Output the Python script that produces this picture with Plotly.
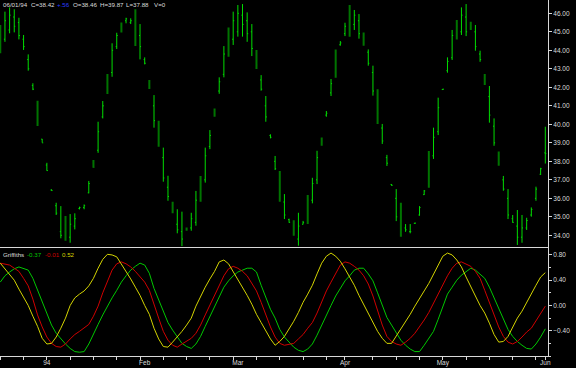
import plotly.graph_objects as go
import pandas as pd

# ---------------- data ----------------
dates = pd.bdate_range("1993-12-20", "1994-06-01")

high = [45.37, 46.09, 46.32, 46.22, 45.76, 44.83, 43.78, 42.22, 41.28, 39.21,
        37.92, 36.49, 35.76, 35.58, 35.04, 35.15, 35.19, 35.55, 35.67, 36.94,
        38.07, 40.14, 41.26, 42.72, 44.38, 44.95, 45.51, 45.76, 45.73, 46.22,
        45.42, 43.62, 42.39, 41.58, 40.19, 38.74, 37.22, 35.82, 35.41, 35.28,
        34.43, 35.22, 36.40, 37.21, 38.74, 39.69, 40.86, 42.54, 44.23, 45.24,
        46.09, 46.45, 46.50, 46.05, 45.42, 44.02, 42.66, 41.53, 39.46, 38.29,
        37.48, 36.23, 34.90, 34.82, 35.22, 34.78, 36.18, 37.11, 38.57, 39.29,
        40.72, 42.45, 44.05, 44.50, 45.49, 46.45, 46.18, 45.96, 44.97, 44.05,
        43.17, 41.89, 40.02, 38.35, 36.77, 36.50, 35.76, 34.61, 34.61, 34.68,
        35.58, 36.45, 38.56, 39.82, 41.44, 41.92, 43.62, 45.10, 45.64, 46.32,
        46.50, 45.55, 45.37, 43.98, 42.72, 42.07, 40.32, 38.53, 37.21, 36.50,
        35.10, 35.37, 35.10, 34.95, 35.51, 36.63, 37.65, 39.87]
low = [43.84, 44.46, 44.92, 44.97, 44.59, 44.02, 42.90, 41.85, 39.91, 39.01,
       37.49, 36.41, 35.10, 33.84, 33.71, 33.60, 34.32, 35.40, 35.41, 36.27,
       37.65, 38.46, 40.32, 41.64, 42.57, 44.07, 44.97, 45.46, 45.42, 44.23,
       43.51, 43.24, 41.91, 39.82, 38.79, 36.90, 35.87, 35.19, 34.11, 33.42,
       34.25, 34.25, 34.52, 35.82, 36.85, 38.66, 40.41, 41.65, 42.54, 43.65,
       44.29, 44.74, 44.74, 44.46, 43.69, 42.99, 41.82, 40.14, 39.24, 37.53,
       35.82, 34.88, 34.68, 33.98, 33.44, 34.59, 34.61, 35.73, 36.77, 38.84,
       40.41, 41.53, 42.52, 44.25, 44.77, 44.74, 45.10, 44.63, 44.25, 43.17,
       41.55, 40.02, 38.94, 37.75, 36.68, 34.77, 33.92, 34.19, 34.11, 34.63,
       35.06, 36.18, 36.57, 38.13, 39.42, 41.86, 42.79, 43.48, 44.59, 44.83,
       44.77, 45.10, 43.98, 43.38, 42.12, 40.09, 38.84, 37.76, 36.41, 34.88,
       34.68, 33.48, 33.60, 34.29, 35.01, 35.87, 37.26, 37.88]
open_ = [45.00, 44.60, 45.10, 45.80, 45.50, 44.60, 43.50, 42.10, 41.00, 39.20,
         37.80, 36.45, 35.60, 34.20, 34.20, 33.90, 34.50, 35.45, 35.50, 36.30,
         37.90, 38.60, 40.40, 42.00, 42.80, 44.20, 45.30, 45.60, 45.50, 45.60,
         44.80, 43.50, 42.20, 41.00, 39.80, 38.20, 36.60, 35.60, 34.60, 34.20,
         34.35, 34.40, 34.70, 36.00, 37.00, 38.80, 40.60, 41.80, 42.70, 44.00,
         44.60, 45.00, 45.90, 45.60, 45.00, 43.80, 42.40, 41.00, 39.40, 38.00,
         37.00, 35.80, 34.85, 34.50, 33.80, 34.60, 34.80, 35.90, 37.00, 39.00,
         40.50, 41.70, 42.80, 44.30, 44.90, 45.20, 45.40, 45.60, 44.70, 43.90,
         42.80, 41.40, 39.80, 38.20, 36.75, 36.00, 35.20, 34.40, 34.20, 34.65,
         35.10, 36.20, 36.80, 38.30, 39.60, 41.88, 42.90, 43.60, 44.80, 45.00,
         45.80, 45.40, 45.00, 43.80, 42.50, 41.50, 39.90, 38.30, 37.00, 36.00,
         34.90, 34.50, 33.90, 34.40, 35.10, 36.00, 37.30, 38.46]
close = [44.20, 45.60, 45.90, 45.30, 44.80, 44.20, 43.00, 41.90, 40.10, 39.00,
         37.50, 36.42, 35.20, 34.00, 33.90, 34.60, 34.90, 35.50, 35.60, 36.80,
         37.70, 39.60, 41.00, 41.80, 44.00, 44.80, 45.10, 45.70, 45.60, 44.60,
         44.20, 43.30, 42.00, 40.20, 39.00, 37.10, 36.10, 35.30, 34.30, 33.80,
         34.30, 34.90, 35.90, 36.90, 38.30, 39.40, 40.50, 42.30, 43.80, 44.80,
         45.60, 46.00, 45.40, 44.90, 44.10, 43.20, 41.90, 40.40, 39.30, 37.60,
         36.20, 35.10, 34.70, 34.10, 34.50, 34.70, 35.90, 36.80, 38.20, 39.10,
         40.60, 42.20, 43.50, 44.40, 45.30, 45.50, 45.90, 44.90, 44.40, 43.30,
         41.80, 40.60, 39.10, 37.90, 36.70, 35.00, 34.30, 34.30, 34.20, 34.66,
         35.50, 36.40, 38.10, 39.30, 40.90, 41.90, 43.40, 44.80, 45.30, 45.90,
         45.00, 45.20, 44.20, 43.50, 42.20, 40.50, 39.00, 37.90, 36.50, 35.10,
         34.70, 33.90, 34.40, 34.80, 35.40, 36.50, 37.60, 38.42]
# bars drawn in the darker shade
dark_days = [0, 8, 14, 20, 23, 26, 29, 32, 34, 37, 40, 43, 46, 49, 55, 60, 63,
             66, 69, 72, 75, 78, 81, 86, 92, 98, 101, 104, 107]

griff_green = [0.37, 0.47, 0.53, 0.58, 0.61, 0.59, 0.56, 0.43, 0.24, 0.07,
               -0.12, -0.31, -0.44, -0.53, -0.61, -0.68, -0.73, -0.74, -0.73, -0.61,
               -0.44, -0.30, -0.15, -0.01, 0.12, 0.24, 0.37, 0.47, 0.56, 0.62,
               0.67, 0.64, 0.51, 0.27, 0.08, -0.11, -0.27, -0.39, -0.50, -0.60,
               -0.65, -0.68, -0.61, -0.49, -0.33, -0.17, -0.01, 0.15, 0.29, 0.39,
               0.47, 0.53, 0.56, 0.59, 0.59, 0.53, 0.32, 0.12, -0.06, -0.20,
               -0.38, -0.50, -0.58, -0.66, -0.71, -0.73, -0.69, -0.61, -0.47, -0.31,
               -0.14, 0.00, 0.15, 0.27, 0.39, 0.47, 0.56, 0.59, 0.59, 0.50,
               0.39, 0.20, 0.00, -0.19, -0.31, -0.44, -0.55, -0.63, -0.69, -0.73,
               -0.73, -0.63, -0.52, -0.41, -0.22, -0.01, 0.18, 0.29, 0.40, 0.48,
               0.54, 0.59, 0.56, 0.50, 0.43, 0.29, 0.12, -0.07, -0.23, -0.38,
               -0.49, -0.57, -0.63, -0.68, -0.69, -0.61, -0.50, -0.37]
griff_red = [0.67, 0.66, 0.64, 0.59, 0.54, 0.43, 0.31, 0.10, -0.15, -0.34,
             -0.50, -0.60, -0.65, -0.66, -0.61, -0.53, -0.46, -0.41, -0.36, -0.30,
             -0.17, -0.01, 0.20, 0.39, 0.56, 0.66, 0.69, 0.66, 0.61, 0.54,
             0.45, 0.37, 0.24, 0.00, -0.20, -0.41, -0.55, -0.63, -0.66, -0.61,
             -0.57, -0.52, -0.44, -0.31, -0.15, 0.00, 0.15, 0.32, 0.47, 0.58,
             0.62, 0.59, 0.54, 0.47, 0.35, 0.23, 0.05, -0.15, -0.34, -0.50,
             -0.60, -0.63, -0.61, -0.60, -0.53, -0.46, -0.36, -0.27, -0.12, 0.05,
             0.23, 0.37, 0.51, 0.64, 0.69, 0.67, 0.62, 0.56, 0.47, 0.34,
             0.15, -0.09, -0.31, -0.49, -0.57, -0.61, -0.63, -0.58, -0.52, -0.44,
             -0.34, -0.23, -0.11, 0.04, 0.18, 0.32, 0.47, 0.59, 0.67, 0.69,
             0.66, 0.62, 0.54, 0.43, 0.24, 0.04, -0.17, -0.34, -0.49, -0.58,
             -0.61, -0.57, -0.50, -0.42, -0.36, -0.25, -0.12, -0.01]
griff_yellow = [0.67, 0.58, 0.50, 0.40, 0.26, 0.13, 0.00, -0.17, -0.33, -0.52,
                -0.61, -0.60, -0.50, -0.36, -0.20, 0.00, 0.12, 0.18, 0.23, 0.31,
                0.43, 0.59, 0.73, 0.81, 0.80, 0.77, 0.66, 0.54, 0.42, 0.29,
                0.16, 0.00, -0.14, -0.36, -0.53, -0.65, -0.66, -0.58, -0.50, -0.41,
                -0.31, -0.20, -0.01, 0.15, 0.29, 0.42, 0.54, 0.69, 0.72, 0.66,
                0.54, 0.42, 0.29, 0.16, 0.02, -0.14, -0.27, -0.41, -0.53, -0.63,
                -0.57, -0.49, -0.38, -0.25, -0.11, 0.05, 0.18, 0.32, 0.50, 0.67,
                0.78, 0.83, 0.78, 0.70, 0.58, 0.45, 0.32, 0.16, 0.02, -0.12,
                -0.28, -0.41, -0.52, -0.60, -0.60, -0.49, -0.38, -0.27, -0.14, -0.01,
                0.12, 0.23, 0.35, 0.50, 0.64, 0.78, 0.83, 0.80, 0.72, 0.61,
                0.45, 0.31, 0.15, 0.00, -0.12, -0.28, -0.46, -0.58, -0.57, -0.49,
                -0.34, -0.20, -0.09, 0.05, 0.20, 0.32, 0.45, 0.52]

month_labels = ["94", "Feb", "Mar", "Apr", "May", "Jun"]
price_ticks = [34, 35, 36, 37, 38, 39, 40, 41, 42, 43, 44, 45, 46]
griff_ticks = [-0.4, 0.0, 0.4, 0.8]

# ---------------- build ----------------
n = len(dates)
pos = list(range(n))
dark_set = set(dark_days)

BRIGHT = "#00dc00"
DARK = "#007400"
TXT = "#dcdcdc"
FONT = "Liberation Sans, Arial, sans-serif"
FS = 6.5
FS_HDR = 6.2

fig = go.Figure()

def ohlc_subset(idx, color, width):
    return go.Ohlc(
        x=[pos[i] for i in idx],
        open=[open_[i] for i in idx], high=[high[i] for i in idx],
        low=[low[i] for i in idx], close=[close[i] for i in idx],
        increasing=dict(line=dict(color=color, width=width)),
        decreasing=dict(line=dict(color=color, width=width)),
        tickwidth=0.22, xaxis="x", yaxis="y", showlegend=False,
        hoverinfo="skip",
    )

fig.add_trace(ohlc_subset([i for i in pos if i not in dark_set], BRIGHT, 1))
fig.add_trace(ohlc_subset([i for i in pos if i in dark_set], DARK, 2))

for vals, col in [(griff_green, "#00c800"), (griff_red, "#d00000"), (griff_yellow, "#d4d400")]:
    fig.add_trace(go.Scatter(x=pos, y=vals, mode="lines", line=dict(color=col, width=1),
                             xaxis="x2", yaxis="y2", showlegend=False, hoverinfo="skip"))

# x ticks: weekly Mondays + first trading day of each month
month_first = [i for i in pos if i > 0 and dates[i].month != dates[i - 1].month]
label_pos = month_first
mondays = [i for i in pos if dates[i].weekday() == 0]
minor = []
for m in mondays:
    if any(0 < m - f <= 3 for f in month_first if dates[f].weekday() != 0):
        continue
    if any(0 < f - m <= 3 for f in month_first if dates[f].weekday() >= 3):
        continue
    minor.append(m)
for f in month_first:
    if dates[f].weekday() >= 3 or f == n - 1:
        minor.append(f)
minor = sorted(set(minor))

xr = [-0.06, 117.58]
H_PLOT = 356.0
main_dom = [109 / H_PLOT, 1.0]
low_dom = [0.0, 108 / H_PLOT]
AX = "#d8d8d8"

fig.update_layout(
    width=576, height=368,
    margin=dict(l=0, r=28, t=0, b=12),
    paper_bgcolor="black", plot_bgcolor="black",
    font=dict(family=FONT, size=FS, color=TXT),
    xaxis=dict(domain=[0, 1], anchor="y", range=xr, showticklabels=False, ticks="",
               showgrid=False, zeroline=False, showline=True, linecolor=AX,
               linewidth=1, rangeslider=dict(visible=False)),
    yaxis=dict(domain=main_dom, anchor="x", side="right", range=[33.37, 46.72],
               tickvals=price_ticks, tickformat=".2f", ticks="outside", ticklen=3,
               tickcolor=AX, showgrid=False, zeroline=False, showline=True,
               linecolor=AX, linewidth=1, tickfont=dict(size=FS, color=TXT)),
    xaxis2=dict(domain=[0, 1], anchor="y2", range=xr, tickvals=label_pos,
                ticktext=month_labels, ticks="", showgrid=False, zeroline=False,
                showline=True, linecolor=AX, linewidth=1,
                tickfont=dict(size=FS, color=TXT),
                minor=dict(tickmode="array", tickvals=minor, ticks="outside",
                           ticklen=3, tickcolor=AX, showgrid=False)),
    yaxis2=dict(domain=low_dom, anchor="x2", side="right", range=[-0.80, 0.91],
                tickvals=griff_ticks, tickformat=".2f", ticks="outside", ticklen=3,
                tickcolor=AX, showgrid=False, zeroline=False, showline=True,
                linecolor=AX, linewidth=1, tickfont=dict(size=FS, color=TXT),
                minor=dict(dtick=0.2, tick0=0, ticks="outside", ticklen=2,
                           tickcolor=AX, showgrid=False)),
)

W_PLOT = 548.0
def px_x(px):
    return px / W_PLOT
def px_y(py):
    return 1 - py / H_PLOT

last = n - 1
chg = close[last] - 37.86
header = [
    (1, dates[last].strftime("%m/%d/%y"), TXT),
    (29, f"C={close[last]:.2f}", TXT),
    (55, f"+{chg:.2f}".replace("+0.", "+."), "#2a3cff"),
    (71, f"O={open_[last]:.2f}", TXT),
    (98, f"H={high[last]:.2f}", TXT),
    (124, f"L={low[last]:.2f}", TXT),
    (152, "V=0", TXT),
]
for x0, txt, col in header:
    fig.add_annotation(x=px_x(x0), y=px_y(5), xref="paper", yref="paper", text=txt,
                       showarrow=False, xanchor="left", yanchor="middle",
                       font=dict(size=FS_HDR, color=col, family=FONT))

glabels = [
    (1, "Griffiths", TXT),
    (25, f"{griff_green[-1]:.2f}", "#00c800"),
    (43, f"{griff_red[-1]:.2f}", "#d00000"),
    (60, f"{griff_yellow[-1]:.2f}", "#d4d400"),
]
for x0, txt, col in glabels:
    fig.add_annotation(x=px_x(x0), y=px_y(254), xref="paper", yref="paper", text=txt,
                       showarrow=False, xanchor="left", yanchor="middle",
                       font=dict(size=FS_HDR, color=col, family=FONT))

fig.write_html("out.html")
